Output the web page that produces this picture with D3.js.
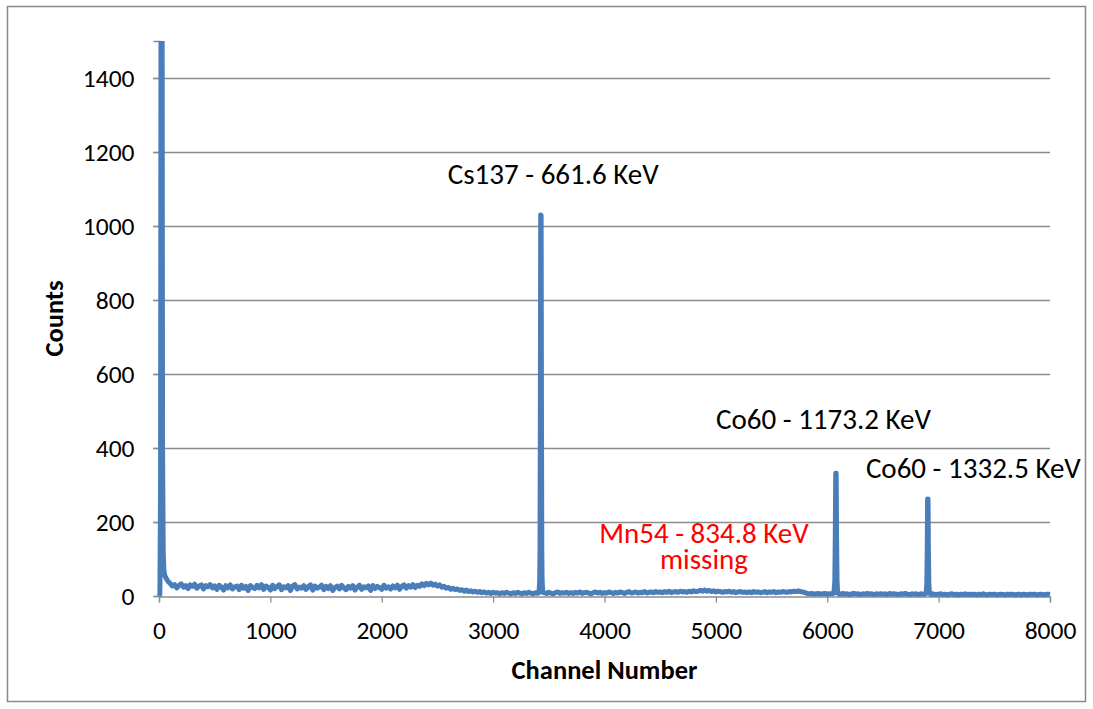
<!DOCTYPE html>
<html>
<head>
<meta charset="utf-8">
<script src="https://cdn.jsdelivr.net/npm/d3@7/dist/d3.min.js"></script>
<style>
  html, body { margin: 0; padding: 0; background: #ffffff; }
  svg { display: block; }
  text { font-family: "Carlito", "Calibri", "Liberation Sans", Arial, sans-serif; }
</style>
</head>
<body>
<svg id="chart" width="1093" height="709"></svg>
<script>
// ---------------- DATA ----------------
const xTicks = [0, 1000, 2000, 3000, 4000, 5000, 6000, 7000, 8000];
const yTicks = [0, 200, 400, 600, 800, 1000, 1200, 1400];

// background continuum, read every 20 channels starting at channel 100
const bgStartChannel = 100;
const bgChannelStep = 20;
const bgCounts = [
  34, 27, 31, 22, 29, 33, 24, 28, 20, 30, 26, 32, 21, 27, 30, 19, 28, 25, 31, 22,
  27, 18, 29, 24, 16, 28, 22, 30, 19, 25, 27, 17, 29, 21, 26, 15, 28, 23, 20, 29,
  22, 31, 18, 27, 24, 16, 29, 20, 26, 30, 17, 25, 22, 28, 15, 27, 31, 19, 24, 21,
  28, 18, 25, 30, 16, 27, 21, 24, 29, 17, 26, 20, 28, 15, 23, 27, 19, 29, 22, 17,
  26, 21, 28, 16, 24, 29, 18, 25, 22, 27, 15, 28, 20, 26, 23, 18, 29, 21, 25, 19,
  27, 22, 29, 18, 26, 30, 21, 28, 24, 31, 23, 29, 26, 33, 28, 34, 30, 35, 29, 32,
  27, 30, 24, 26, 21, 23, 18, 21, 17, 19, 15, 17, 13, 16, 12, 14, 11, 13, 10, 12,
  9, 11, 8, 10, 7, 10, 8, 9, 6, 9, 7, 10, 8, 6, 9, 7, 10, 8, 6, 9,
  7, 10, 8, 6, 9, 7, 10, 8, 9, 7, 10, 8, 6, 9, 11, 7, 9, 8, 10, 7,
  9, 7, 10, 8, 11, 7, 9, 10, 8, 6, 9, 11, 8, 10, 7, 9, 8, 11, 9, 7,
  10, 8, 11, 9, 7, 10, 12, 8, 9, 11, 8, 10, 9, 12, 8, 10, 11, 9, 12, 10,
  11, 9, 12, 10, 13, 9, 11, 12, 10, 13, 11, 12, 10, 13, 11, 14, 12, 13, 15, 13,
  16, 13, 15, 12, 14, 11, 13, 12, 10, 12, 11, 13, 10, 12, 9, 11, 12, 10, 11, 9,
  11, 9, 12, 10, 11, 9, 10, 12, 9, 11, 10, 12, 9, 11, 10, 12, 11, 10, 12, 11,
  13, 12, 14, 12, 11, 9, 7, 6, 7, 5, 6, 7, 5, 6, 7, 5, 6, 7, 5, 6,
  6, 5, 7, 5, 6, 4, 6, 7, 5, 6, 4, 6, 5, 7, 5, 6, 4, 6, 5, 6,
  5, 6, 4, 7, 5, 6, 5, 4, 6, 5, 7, 5, 4, 6, 5, 6, 4, 6, 5, 6,
  5, 4, 6, 5, 4, 5, 6, 4, 5, 3, 5, 6, 4, 5, 3, 5, 4, 6, 4, 5,
  4, 5, 3, 5, 4, 6, 4, 3, 5, 4, 5, 3, 4, 5, 4, 3, 5, 4, 5, 3,
  4, 5, 3, 5, 4, 3, 5, 4, 5, 3, 4, 5, 3, 4, 5, 4
];

// peak regions: [channel, counts]
const lowEnergyPeak = [[0, 0], [8, 5], [14, 300], [18, 1600], [28, 1600], [32, 400], [38, 120], [44, 70], [52, 55], [64, 48], [80, 40], [100, 34]];
const cs137Peak = [[3400, 7], [3412, 9], [3418, 40], [3421, 120], [3424, 500], [3427, 1030], [3431, 1028], [3434, 500], [3437, 120], [3440, 40], [3446, 10], [3470, 8]];
const co60Peak1 = [[6040, 6], [6060, 8], [6068, 40], [6072, 150], [6076, 332], [6080, 332], [6084, 150], [6088, 40], [6094, 8], [6110, 5]];
const co60Peak2 = [[6870, 5], [6888, 7], [6894, 35], [6898, 130], [6901, 262], [6905, 262], [6908, 130], [6912, 35], [6918, 7], [6935, 4]];

// annotation anchors in data coordinates (text centre, baseline)
const annotations = [
  { lines: ["Cs137 - 661.6 KeV"], channel: 3540, counts: 1113, color: "#000000" },
  { lines: ["Co60 - 1173.2 KeV"], channel: 5966, counts: 451, color: "#000000" },
  { lines: ["Co60 - 1332.5 KeV"], channel: 7312, counts: 319, color: "#000000" },
  { lines: ["Mn54 - 834.8 KeV", "missing"], channel: 4893, counts: 143, color: "#ff0000" }
];

const xTitle = "Channel Number";
const yTitle = "Counts";

// ---------------- BUILD SERIES ----------------
const peaks = [lowEnergyPeak, cs137Peak, co60Peak1, co60Peak2];
let series = [];
bgCounts.forEach((c, i) => {
  const ch = bgStartChannel + i * bgChannelStep;
  const inPeak = peaks.some(p => ch >= p[0][0] && ch <= p[p.length - 1][0]);
  if (!inPeak) series.push([ch, c]);
});
peaks.forEach(p => p.forEach(d => series.push(d)));
series.sort((a, b) => a[0] - b[0]);

// ---------------- DRAW ----------------
const svg = d3.select("#chart");
const plotLeft = 159, plotRight = 1050, plotTop = 41, plotBottom = 596;

const x = d3.scaleLinear().domain([0, 8000]).range([plotLeft, plotRight]);
const y = d3.scaleLinear().domain([0, 1500]).range([plotBottom, plotTop]);
const fontStack = '"Carlito", "Calibri", "Liberation Sans", Arial, sans-serif';

// outer border
svg.append("rect")
  .attr("x", 7.5).attr("y", 6.5)
  .attr("width", 1078).attr("height", 695)
  .attr("fill", "#ffffff")
  .attr("stroke", "#898989").attr("stroke-width", 1.5);

// gridlines
svg.append("g")
  .selectAll("line")
  .data(yTicks.filter(t => t > 0))
  .join("line")
  .attr("x1", plotLeft - 6).attr("x2", plotRight)
  .attr("y1", d => Math.round(y(d)) + 0.5).attr("y2", d => Math.round(y(d)) + 0.5)
  .attr("stroke", "#8c8c8c").attr("stroke-width", 1.3);

// y axis
const yAxis = svg.append("g")
  .attr("transform", `translate(${plotLeft + 0.5},0)`)
  .call(d3.axisLeft(y).tickValues(yTicks).tickSize(6).tickPadding(19).tickFormat(d3.format("d")));
yAxis.select(".domain").attr("stroke", "#8c8c8c").attr("stroke-width", 1.3);
yAxis.selectAll(".tick line").attr("stroke", "#8c8c8c").attr("stroke-width", 1.3);
yAxis.selectAll(".tick text")
  .attr("font-size", 25.5).attr("fill", "#000000")
  .style("font-family", fontStack);

// x axis
const xAxis = svg.append("g")
  .attr("transform", `translate(0,${plotBottom + 0.5})`)
  .call(d3.axisBottom(x).tickValues(xTicks).tickSize(6).tickPadding(18).tickFormat(d3.format("d")));
xAxis.select(".domain").attr("stroke", "#8c8c8c").attr("stroke-width", 1.3);
xAxis.selectAll(".tick line").attr("stroke", "#8c8c8c").attr("stroke-width", 1.3);
xAxis.selectAll(".tick text")
  .attr("font-size", 25.5).attr("fill", "#000000")
  .style("font-family", fontStack);

// clip
svg.append("clipPath").attr("id", "plotclip")
  .append("rect").attr("x", plotLeft - 10).attr("y", plotTop).attr("width", plotRight - plotLeft + 20).attr("height", plotBottom - plotTop + 10);

// spectrum line
const line = d3.line().x(d => x(d[0])).y(d => y(d[1]));
svg.append("path")
  .datum(series)
  .attr("clip-path", "url(#plotclip)")
  .attr("d", line)
  .attr("fill", "none")
  .attr("stroke", "#4a7ebb")
  .attr("stroke-width", 5)
  .attr("stroke-linejoin", "round")
  .attr("stroke-linecap", "butt");

// annotations
const ann = svg.append("g")
  .selectAll("text")
  .data(annotations)
  .join("text")
  .attr("x", d => x(d.channel))
  .attr("y", d => y(d.counts))
  .attr("text-anchor", "middle")
  .attr("font-size", 29)
  .attr("fill", d => d.color);
ann.selectAll("tspan")
  .data(d => d.lines.map((t, i) => ({ t, i, cx: x(d.channel) })))
  .join("tspan")
  .attr("x", d => d.cx)
  .attr("dy", d => d.i === 0 ? 0 : 25.5)
  .text(d => d.t);

// axis titles
svg.append("text")
  .attr("x", (plotLeft + plotRight) / 2).attr("y", 679)
  .attr("text-anchor", "middle")
  .attr("font-size", 26.5).attr("font-weight", "bold")
  .text(xTitle);

svg.append("text")
  .attr("transform", `translate(63,${(plotTop + plotBottom) / 2}) rotate(-90)`)
  .attr("text-anchor", "middle")
  .attr("font-size", 26.5).attr("font-weight", "bold")
  .text(yTitle);
</script>
</body>
</html>
